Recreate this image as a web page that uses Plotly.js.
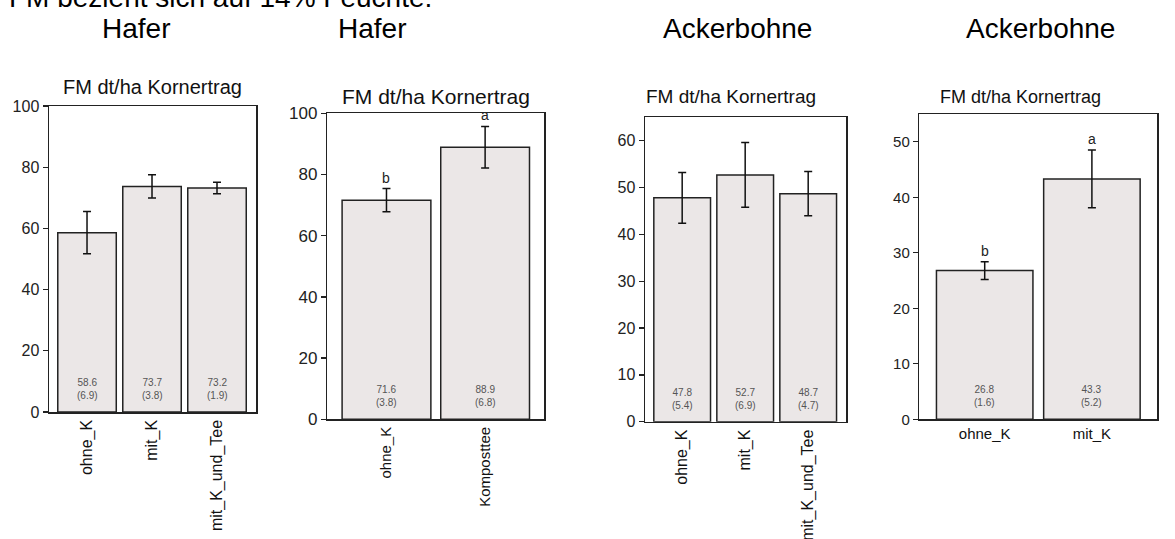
<!DOCTYPE html>
<html>
<head>
<meta charset="utf-8">
<script src="https://cdn.plot.ly/plotly-3.0.1.min.js"></script>
<style>
  html, body { margin: 0; padding: 0; background: #fff; }
  #chart { width: 1175px; height: 539px; }
</style>
</head>
<body>
<div id="chart"></div>
<script>
// ---- data ----
const hafer1Cats = ['ohne_K', 'mit_K', 'mit_K_und_Tee'];
const hafer1Mean = [58.6, 73.7, 73.2];
const hafer1Sd = [6.9, 3.8, 1.9];

const hafer2Cats = ['ohne_K', 'Komposttee'];
const hafer2Mean = [71.6, 88.9];
const hafer2Sd = [3.8, 6.8];
const hafer2Letters = ['b', 'a'];

const acker1Cats = ['ohne_K', 'mit_K', 'mit_K_und_Tee'];
const acker1Mean = [47.8, 52.7, 48.7];
const acker1Sd = [5.4, 6.9, 4.7];

const acker2Cats = ['ohne_K', 'mit_K'];
const acker2Mean = [26.8, 43.3];
const acker2Sd = [1.6, 5.2];
const acker2Letters = ['b', 'a'];

const panelHeaders = ['Hafer', 'Hafer', 'Ackerbohne', 'Ackerbohne'];
const panelTitle = 'FM dt/ha Kornertrag';
const noteText = 'FM bezieht sich auf 14% Feuchte.';

// ---- layout helpers ----
const W = 1175, H = 539;
const px = x => x / W;
const py = y => 1 - y / H;
const FONT = 'Liberation Sans, Arial, sans-serif';
const barFill = '#ebe7e7';

const panels = [
  {cats: hafer1Cats, mean: hafer1Mean, sd: hafer1Sd, letters: null,
   box: [49, 256, 106, 412], yr: [0, 100], dtick: 20, xr: [-0.585, 2.6],
   tickFont: 16, catFont: 16, catAngle: -90, titleX: 152.5, titleY: 87, titleSize: 20, headerX: 136},
  {cats: hafer2Cats, mean: hafer2Mean, sd: hafer2Sd, letters: hafer2Letters,
   box: [327.3, 544.3, 113.3, 419.3], yr: [0, 100], dtick: 20, xr: [-0.6, 1.6],
   tickFont: 17, catFont: 15, catAngle: -90, titleX: 436, titleY: 96.5, titleSize: 21, headerX: 372},
  {cats: acker1Cats, mean: acker1Mean, sd: acker1Sd, letters: null,
   box: [645, 846, 117.3, 421.7], yr: [0, 65], dtick: 10, xr: [-0.59, 2.6],
   tickFont: 16, catFont: 16, catAngle: -90, titleX: 731, titleY: 96, titleSize: 19, headerX: 737},
  {cats: acker2Cats, mean: acker2Mean, sd: acker2Sd, letters: acker2Letters,
   box: [919.3, 1157.3, 114, 419.3], yr: [0, 55], dtick: 10, xr: [-0.61, 1.61],
   tickFont: 15, catFont: 15, catAngle: 0, titleX: 1020, titleY: 96.5, titleSize: 18, headerX: 1040}
];

const traces = [];
const annotations = [];
const layout = {
  width: W, height: H,
  margin: {l: 0, r: 0, t: 0, b: 0},
  paper_bgcolor: '#fff', plot_bgcolor: '#fff',
  showlegend: false,
  font: {family: FONT, color: '#222'},
  annotations: annotations
};

panels.forEach((p, i) => {
  const n = i + 1;
  const xa = n === 1 ? 'x' : 'x' + n;
  const ya = n === 1 ? 'y' : 'y' + n;
  traces.push({
    type: 'bar', x: p.cats, y: p.mean, xaxis: xa, yaxis: ya,
    width: 0.9,
    marker: {color: barFill, line: {color: '#222', width: 1.5}},
    error_y: {type: 'data', array: p.sd, visible: true, color: '#111', thickness: 1.5, width: 4},
    hoverinfo: 'none'
  });
  layout['xaxis' + (n === 1 ? '' : n)] = {
    domain: [px(p.box[0]), px(p.box[1])], anchor: ya,
    type: 'category', range: p.xr, fixedrange: true,
    showline: true, mirror: true, linecolor: '#222', linewidth: 1.5,
    ticks: '', showgrid: false, zeroline: false,
    tickangle: p.catAngle, tickfont: {size: p.catFont, family: FONT, color: '#111'}
  };
  layout['yaxis' + (n === 1 ? '' : n)] = {
    domain: [py(p.box[3]), py(p.box[2])], anchor: xa,
    range: p.yr, dtick: p.dtick, tick0: 0, fixedrange: true,
    showline: true, mirror: true, linecolor: '#222', linewidth: 1.5,
    ticks: 'outside', ticklen: 5, tickwidth: 1.3, tickcolor: '#222',
    showgrid: false, zeroline: false,
    tickfont: {size: p.tickFont, family: FONT, color: '#222'}
  };
  // value labels inside bars
  p.cats.forEach((c, k) => {
    annotations.push({
      xref: xa, yref: ya, x: c, y: 0, yanchor: 'bottom', yshift: 9,
      text: p.mean[k].toFixed(1) + '<br>(' + p.sd[k].toFixed(1) + ')',
      showarrow: false, font: {size: 10, family: FONT, color: '#555'}
    });
    if (p.letters) {
      annotations.push({
        xref: xa, yref: ya, x: c, y: p.mean[k] + p.sd[k], yanchor: 'bottom', yshift: 1,
        text: p.letters[k], showarrow: false, font: {size: 14, family: FONT, color: '#222'}
      });
    }
  });
  // panel title
  annotations.push({
    xref: 'paper', yref: 'paper', x: px(p.titleX), y: py(p.titleY),
    xanchor: 'center', yanchor: 'middle', text: panelTitle, showarrow: false,
    font: {size: p.titleSize, family: FONT, color: '#111'}
  });
  // header
  annotations.push({
    xref: 'paper', yref: 'paper', x: px(p.headerX), y: py(28),
    xanchor: 'center', yanchor: 'middle', text: panelHeaders[i], showarrow: false,
    font: {size: 28, family: FONT, color: '#000'}
  });
});

// cut-off note at the very top
annotations.push({
  xref: 'paper', yref: 'paper', x: px(7), y: py(-3),
  xanchor: 'left', yanchor: 'middle', text: noteText, showarrow: false,
  font: {size: 28, family: FONT, color: '#000'}
});

Plotly.newPlot('chart', traces, layout, {staticPlot: true, displayModeBar: false});
</script>
</body>
</html>
